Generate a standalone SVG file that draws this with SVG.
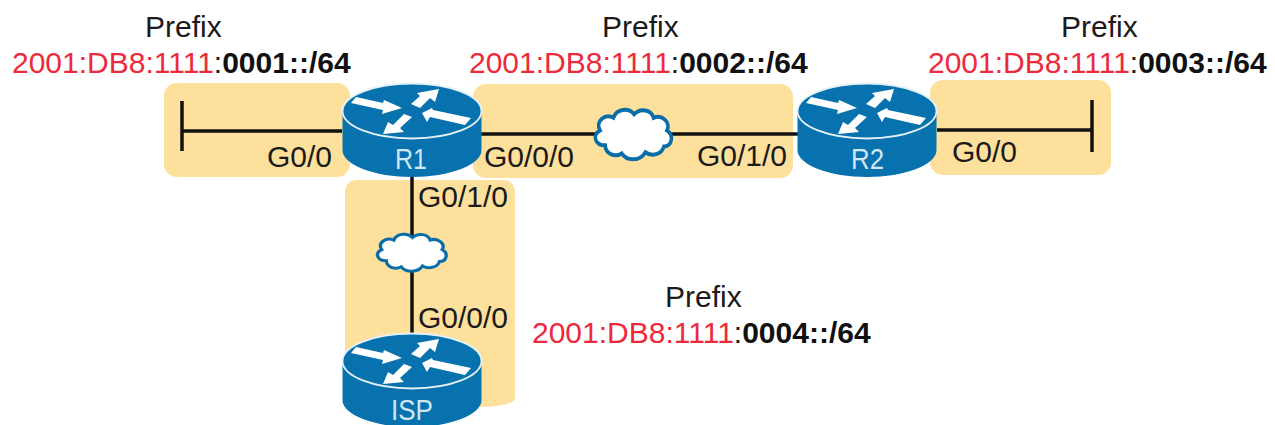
<svg xmlns="http://www.w3.org/2000/svg" width="1275" height="425" viewBox="0 0 1275 425">
<style>
text{font-family:"Liberation Sans",Arial,sans-serif;font-size:30px;fill:#1c1a1a}
.a{fill:#ed2a3c}
.b{font-weight:bold;fill:#111}
.n{fill:#cfe6f3;font-size:29px}
.band{fill:#fde09b}
.link{stroke:#111;stroke-width:3.500;fill:none}
.cloud{fill:#fff;stroke:#0b6da8;stroke-width:3.500}
.body{fill:#0772ae}
.rim{fill:#0772ae;stroke:#e6f1f7;stroke-width:1.800}
.ar{fill:#fff}
</style>
<defs>
<g id="router">
<path class="body" d="M-69.500 0V39A69.500 27 0 0 0 69.500 39V0Z"/>
<ellipse class="rim" cx="0" cy="0" rx="69.500" ry="27.500"/>
<path class="ar" d="M-61-8-56-14-29-8-28-11-10-3-30 3-29-1Z"/>
<path class="ar" d="M-1-7 8-15 5-18 27-22 23-9 18-13 8-3Z"/>
<path class="ar" d="M10 2 20-3 21-1 59 7 53 14 18 6 15 11Z"/>
<path class="ar" d="M-29 23-24 11-19 14-8 3 0 6-12 17-8 21Z"/>
</g>
<path id="cl" d="M-32 -4C-37 -12 -27 -19 -19 -15C-16 -23 -4 -24 1 -18C7 -24 18 -22 20 -15C28 -18 37 -11 33 -4C40 0 38 10 30 10C28 17 18 19 12 15C7 23 -6 23 -11 16C-18 20 -27 16 -27 9C-37 9 -40 0 -32 -4Z"/>
</defs>
<g id="bands">
<rect class="band" x="164" y="83" width="186" height="94" rx="13"/>
<rect class="band" x="473" y="84" width="320" height="94" rx="13"/>
<rect class="band" x="930" y="80" width="181" height="95" rx="13"/>
<path class="band" d="M358 180H502Q515 180 515 193V398Q515 406 480 407V400H345V193Q345 180 358 180Z"/>
</g>
<g id="connectors">
<path class="link" d="M182 101V151M182 131H342"/>
<path class="link" d="M481 134H800"/>
<path class="link" d="M937 130H1092M1092 100V152"/>
<path class="link" d="M412 177V336"/>
</g>
<g id="cloud-top"><use href="#cl" class="cloud" transform="translate(633 135) scale(1.03 1.15)"/></g>
<g id="cloud-left"><use href="#cl" class="cloud" transform="translate(411.500 253) scale(.93 .86)"/></g>
<g id="R1"><use href="#router" x="412" y="111"/><text class="n" x="395" y="169" textLength="32" lengthAdjust="spacingAndGlyphs">R1</text></g>
<g id="R2"><use href="#router" x="867" y="111"/><text class="n" x="851" y="169" textLength="33" lengthAdjust="spacingAndGlyphs">R2</text></g>
<g id="ISP"><use href="#router" x="412" y="361"/><text class="n" x="391" y="420" textLength="42" lengthAdjust="spacingAndGlyphs">ISP</text></g>
<g id="labels">
<text x="267" y="167">G0/0</text>
<text x="484" y="167">G0/0/0</text>
<text x="697" y="166">G0/1/0</text>
<text x="952" y="162">G0/0</text>
<text x="418" y="207">G0/1/0</text>
<text x="418" y="328">G0/0/0</text>
<text x="145" y="37">Prefix</text>
<text x="12" y="73"><tspan class="a">2001:DB8:1111</tspan>:<tspan class="b">0001::/64</tspan></text>
<text x="602" y="37">Prefix</text>
<text x="469" y="73"><tspan class="a">2001:DB8:1111</tspan>:<tspan class="b">0002::/64</tspan></text>
<text x="1061" y="37">Prefix</text>
<text x="928" y="73"><tspan class="a">2001:DB8:1111</tspan>:<tspan class="b">0003::/64</tspan></text>
<text x="665" y="307">Prefix</text>
<text x="532" y="343"><tspan class="a">2001:DB8:1111</tspan>:<tspan class="b">0004::/64</tspan></text>
</g>
</svg>
